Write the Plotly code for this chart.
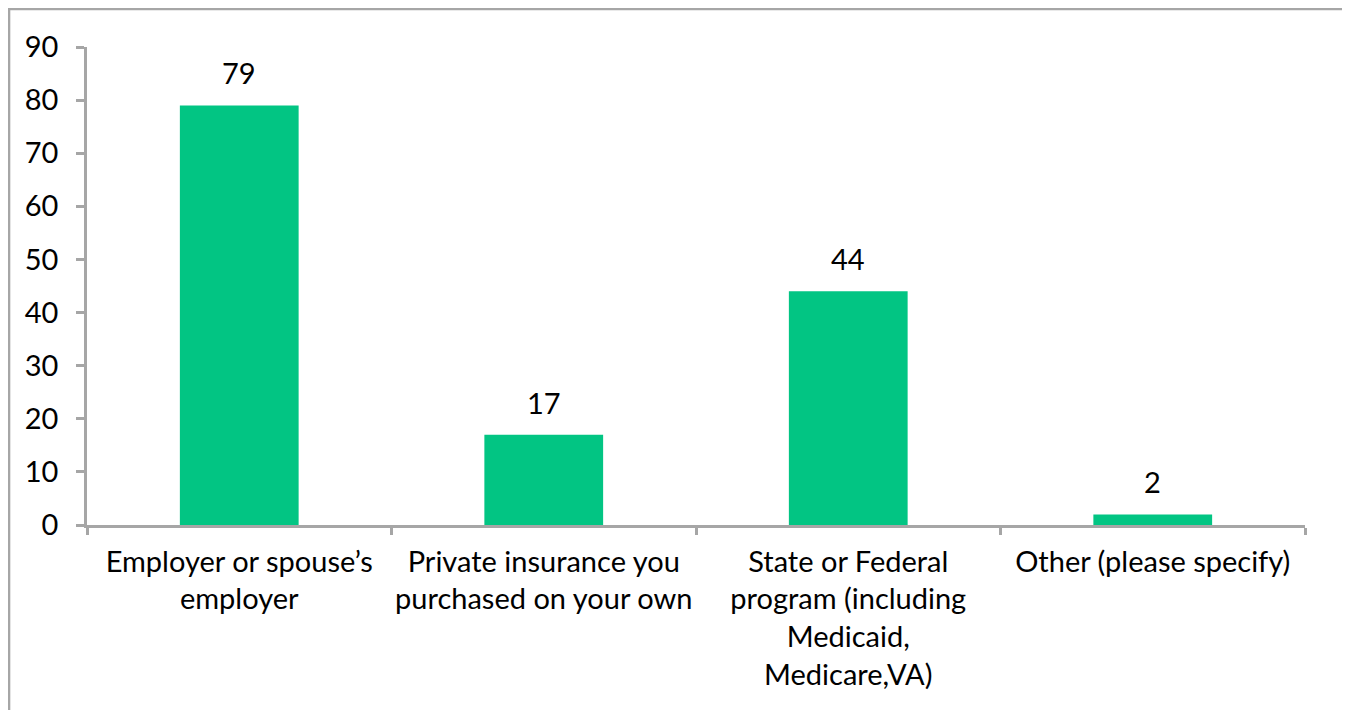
import plotly.graph_objects as go

# survey: source of health insurance
categories = [
    "Employer or spouse’s<br>employer",
    "Private insurance you<br>purchased on your own",
    "State or Federal<br>program (including<br>Medicaid,<br>Medicare,VA)",
    "Other (please specify)",
]
values = [79, 17, 44, 2]
y_ticks = [0, 10, 20, 30, 40, 50, 60, 70, 80, 90]

BAR_COLOR = "#02c583"
AXIS_COLOR = "#a6a6a6"
FONT = "Lato, 'Open Sans', sans-serif"

fig = go.Figure()
fig.add_trace(go.Bar(
    x=categories,
    y=values,
    marker=dict(color=BAR_COLOR, line=dict(width=0)),
    width=0.39,
    hoverinfo="x+y",
))

# value labels sit a bit above each bar
for cat, val in zip(categories, values):
    fig.add_annotation(
        x=cat, y=val, text=str(val),
        showarrow=False, yanchor="bottom", yshift=13,
        font=dict(size=29, color="black", family=FONT),
    )

# outer chart frame (bottom edge runs off the page)
fig.add_shape(
    type="rect", xref="paper", yref="paper",
    x0=-0.0640, x1=1.0332, y0=-0.6, y1=1.0795,
    line=dict(color=AXIS_COLOR, width=2.5),
    fillcolor="rgba(0,0,0,0)", layer="below",
)

fig.update_layout(
    width=1350, height=710,
    margin=dict(l=79, r=53, t=39, b=193),
    plot_bgcolor="white", paper_bgcolor="white",
    font=dict(family=FONT, size=29, color="black"),
    showlegend=False,
    xaxis=dict(
        type="category",
        showline=True, linecolor=AXIS_COLOR, linewidth=2.5,
        ticks="outside", tickson="boundaries", ticklen=7,
        tickcolor=AXIS_COLOR, tickwidth=2.5,
        showgrid=False, zeroline=False,
        tickfont=dict(size=29), tickangle=0, automargin=False,
        ticklabelstandoff=9,
    ),
    yaxis=dict(
        range=[0, 90], tickvals=y_ticks,
        showline=True, linecolor=AXIS_COLOR, linewidth=2.5,
        ticks="outside", ticklen=8, tickcolor=AXIS_COLOR, tickwidth=2.5,
        showgrid=False, zeroline=False, automargin=False,
        tickfont=dict(size=29),
        ticklabelstandoff=12,
    ),
)

fig.write_html("out.html")
